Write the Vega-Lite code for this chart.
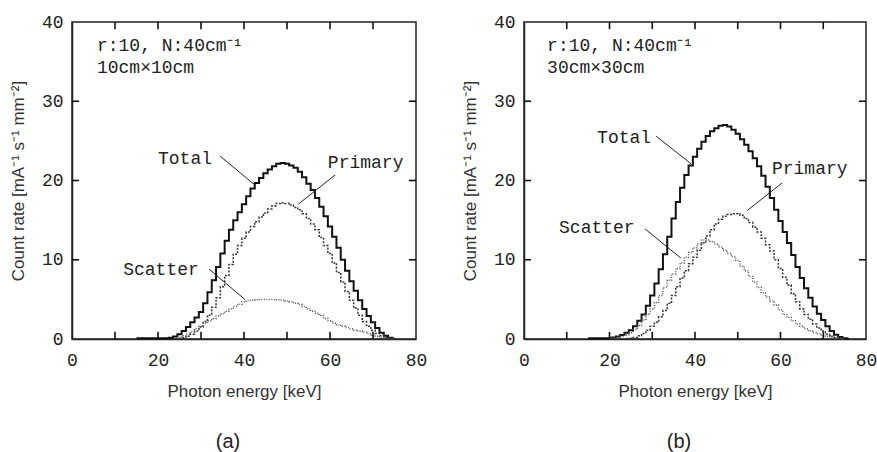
{
  "$schema": "https://vega.github.io/schema/vega-lite/v6.json",
  "background": "white",
  "padding": {"left": 8, "top": 12, "right": 5, "bottom": 5},
  "datasets": {
    "a": [
      {"e":15,"T":0.08},{"e":16,"T":0.08},{"e":17,"T":0.08},{"e":18,"T":0.08},{"e":19,"T":0.08},{"e":20,"T":0.08},{"e":21,"T":0.08},{"e":22,"T":0.1},{"e":23,"T":0.15},
      {"e":24,"T":0.3,"S":0.1},{"e":25,"T":0.6,"P":0.05,"S":0.2},{"e":26,"T":1.0,"P":0.15,"S":0.4},{"e":27,"T":1.5,"P":0.35,"S":0.6},{"e":28,"T":2.1,"P":0.6,"S":0.9},{"e":29,"T":2.7,"P":1.0,"S":1.3},
      {"e":30,"T":3.4,"P":1.5,"S":1.6},{"e":31,"T":4.5,"P":2.2,"S":2.0},{"e":32,"T":5.9,"P":3.0,"S":2.3},{"e":33,"T":7.4,"P":4.0,"S":2.6},{"e":34,"T":9.1,"P":5.2,"S":2.9},
      {"e":35,"T":10.8,"P":6.6,"S":3.2},{"e":36,"T":12.4,"P":8.0,"S":3.5},{"e":37,"T":13.8,"P":9.4,"S":3.8},{"e":38,"T":15.0,"P":10.7,"S":4.1},{"e":39,"T":16.0,"P":11.8,"S":4.4},
      {"e":40,"T":17.0,"P":12.7,"S":4.7},{"e":41,"T":18.0,"P":13.5,"S":4.85},{"e":42,"T":19.0,"P":14.2,"S":4.9},{"e":43,"T":19.7,"P":14.8,"S":4.95},{"e":44,"T":20.3,"P":15.4,"S":5.0},
      {"e":45,"T":20.9,"P":15.9,"S":5.0},{"e":46,"T":21.4,"P":16.4,"S":5.0},{"e":47,"T":21.8,"P":16.8,"S":5.0},{"e":48,"T":22.1,"P":17.1,"S":4.95},{"e":49,"T":22.2,"P":17.2,"S":4.9},
      {"e":50,"T":22.1,"P":17.1,"S":4.8},{"e":51,"T":21.9,"P":16.9,"S":4.7},{"e":52,"T":21.6,"P":16.6,"S":4.5},{"e":53,"T":21.1,"P":16.3,"S":4.35},{"e":54,"T":20.4,"P":15.8,"S":4.1},
      {"e":55,"T":19.6,"P":15.2,"S":3.8},{"e":56,"T":18.8,"P":14.5,"S":3.5},{"e":57,"T":17.8,"P":13.8,"S":3.25},{"e":58,"T":16.7,"P":12.8,"S":2.95},{"e":59,"T":15.5,"P":11.8,"S":2.6},
      {"e":60,"T":14.2,"P":10.8,"S":2.3},{"e":61,"T":12.9,"P":9.6,"S":2.0},{"e":62,"T":11.5,"P":8.4,"S":1.8},{"e":63,"T":10.0,"P":7.2,"S":1.6},{"e":64,"T":8.6,"P":6.0,"S":1.45},
      {"e":65,"T":7.3,"P":4.9,"S":1.3},{"e":66,"T":6.1,"P":3.9,"S":1.15},{"e":67,"T":4.9,"P":3.0,"S":1.0},{"e":68,"T":3.8,"P":2.2,"S":0.85},{"e":69,"T":2.9,"P":1.6,"S":0.7},
      {"e":70,"T":2.1,"P":1.1,"S":0.5},{"e":71,"T":1.4,"P":0.7,"S":0.35},{"e":72,"T":0.8,"P":0.4,"S":0.2},{"e":73,"T":0.4,"P":0.2,"S":0.1},{"e":74,"T":0.15,"P":0.07,"S":0.05},{"e":75,"T":0.05,"P":0.02,"S":0.02}
    ],
    "b": [
      {"e":15,"T":0.1},{"e":16,"T":0.1},{"e":17,"T":0.1},{"e":18,"T":0.1},{"e":19,"T":0.1},{"e":20,"T":0.1,"S":0.05},{"e":21,"T":0.2,"S":0.1},{"e":22,"T":0.3,"S":0.2},{"e":23,"T":0.5,"S":0.3},
      {"e":24,"T":0.8,"P":0.05,"S":0.5},{"e":25,"T":1.1,"P":0.1,"S":0.8},{"e":26,"T":1.6,"P":0.2,"S":1.2},{"e":27,"T":2.3,"P":0.4,"S":1.7},{"e":28,"T":3.1,"P":0.7,"S":2.4},{"e":29,"T":4.2,"P":1.1,"S":3.1},
      {"e":30,"T":5.5,"P":1.6,"S":3.8},{"e":31,"T":7.0,"P":2.1,"S":4.6},{"e":32,"T":8.8,"P":2.8,"S":5.5},{"e":33,"T":10.7,"P":3.6,"S":6.5},{"e":34,"T":12.9,"P":4.5,"S":7.4},
      {"e":35,"T":15.2,"P":5.5,"S":8.2},{"e":36,"T":17.3,"P":6.6,"S":8.9},{"e":37,"T":19.1,"P":7.7,"S":9.6},{"e":38,"T":20.7,"P":8.6,"S":10.3},{"e":39,"T":21.9,"P":9.5,"S":10.9},
      {"e":40,"T":23.0,"P":10.3,"S":11.5},{"e":41,"T":24.0,"P":11.2,"S":12.0},{"e":42,"T":24.9,"P":12.1,"S":12.5},{"e":43,"T":25.6,"P":13.0,"S":12.5},{"e":44,"T":26.2,"P":13.8,"S":12.3},
      {"e":45,"T":26.6,"P":14.5,"S":12.0},{"e":46,"T":26.9,"P":15.1,"S":11.6},{"e":47,"T":27.0,"P":15.5,"S":11.2},{"e":48,"T":26.8,"P":15.7,"S":10.8},{"e":49,"T":26.4,"P":15.8,"S":10.4},
      {"e":50,"T":25.9,"P":15.8,"S":9.9},{"e":51,"T":25.2,"P":15.6,"S":9.2},{"e":52,"T":24.5,"P":15.2,"S":8.6},{"e":53,"T":23.7,"P":14.7,"S":7.9},{"e":54,"T":22.8,"P":14.1,"S":7.2},
      {"e":55,"T":21.8,"P":13.5,"S":6.5},{"e":56,"T":20.6,"P":12.7,"S":5.8},{"e":57,"T":19.2,"P":11.9,"S":5.3},{"e":58,"T":17.8,"P":11.1,"S":4.8},{"e":59,"T":16.3,"P":10.0,"S":4.3},
      {"e":60,"T":14.9,"P":8.9,"S":3.7},{"e":61,"T":13.5,"P":7.8,"S":3.1},{"e":62,"T":12.1,"P":6.8,"S":2.7},{"e":63,"T":10.6,"P":5.7,"S":2.3},{"e":64,"T":9.1,"P":4.7,"S":1.9},
      {"e":65,"T":7.7,"P":3.8,"S":1.6},{"e":66,"T":6.4,"P":3.1,"S":1.3},{"e":67,"T":5.2,"P":2.5,"S":1.0},{"e":68,"T":4.1,"P":1.9,"S":0.8},{"e":69,"T":3.2,"P":1.4,"S":0.65},
      {"e":70,"T":2.4,"P":1.0,"S":0.5},{"e":71,"T":1.6,"P":0.6,"S":0.35},{"e":72,"T":1.0,"P":0.35,"S":0.25},{"e":73,"T":0.55,"P":0.2,"S":0.15},{"e":74,"T":0.25,"P":0.08,"S":0.08},{"e":75,"T":0.1,"P":0.03,"S":0.03},{"e":76,"T":0.03}
    ],
    "tk": [
      {"tx1":10,"ty1":0,"tx2":10,"ty2":0.9},{"tx1":20,"ty1":0,"tx2":20,"ty2":0.9},{"tx1":30,"ty1":0,"tx2":30,"ty2":0.9},{"tx1":40,"ty1":0,"tx2":40,"ty2":0.9},{"tx1":50,"ty1":0,"tx2":50,"ty2":0.9},{"tx1":60,"ty1":0,"tx2":60,"ty2":0.9},{"tx1":70,"ty1":0,"tx2":70,"ty2":0.9},
      {"tx1":10,"ty1":40,"tx2":10,"ty2":39.1},{"tx1":20,"ty1":40,"tx2":20,"ty2":39.1},{"tx1":30,"ty1":40,"tx2":30,"ty2":39.1},{"tx1":40,"ty1":40,"tx2":40,"ty2":39.1},{"tx1":50,"ty1":40,"tx2":50,"ty2":39.1},{"tx1":60,"ty1":40,"tx2":60,"ty2":39.1},{"tx1":70,"ty1":40,"tx2":70,"ty2":39.1},
      {"tx1":0,"ty1":10,"tx2":1.65,"ty2":10},{"tx1":0,"ty1":20,"tx2":1.65,"ty2":20},{"tx1":0,"ty1":30,"tx2":1.65,"ty2":30},
      {"tx1":80,"ty1":10,"tx2":78.35,"ty2":10},{"tx1":80,"ty1":20,"tx2":78.35,"ty2":20},{"tx1":80,"ty1":30,"tx2":78.35,"ty2":30}
    ],
    "la": [
      {"x1":34.4,"y1":23.1,"x2":42.6,"y2":19.4},
      {"x1":61.2,"y1":20.7,"x2":52.6,"y2":17.0},
      {"x1":31.9,"y1":8.8,"x2":40.2,"y2":5.0}
    ],
    "lb": [
      {"x1":30.9,"y1":25.6,"x2":39.1,"y2":22.1},
      {"x1":60.4,"y1":19.7,"x2":52.2,"y2":16.2},
      {"x1":28.3,"y1":13.9,"x2":36.7,"y2":10.2}
    ],
    "ta": [
      {"x":20.0,"y":22.1,"t":"Total"},
      {"x":59.5,"y":21.6,"t":"Primary"},
      {"x":11.9,"y":8.1,"t":"Scatter"},
      {"x":5.8,"y":36.3,"t":"r:10, N:40cm⁻¹"},
      {"x":5.8,"y":33.6,"t":"10cm×10cm"}
    ],
    "tb": [
      {"x":17.1,"y":24.7,"t":"Total"},
      {"x":58.0,"y":20.8,"t":"Primary"},
      {"x":8.2,"y":13.4,"t":"Scatter"},
      {"x":5.4,"y":36.3,"t":"r:10, N:40cm⁻¹"},
      {"x":5.4,"y":33.6,"t":"30cm×30cm"}
    ]
  },
  "bounds": "flush",
  "spacing": 108,
  "hconcat": [
    {
      "width": 344, "height": 317,
      "title": {"text": "(a)", "orient": "bottom", "anchor": "middle", "frame": "group", "dx": -16, "offset": 33},
      "layer": [
        {"data": {"name": "a"}, "mark": {"type": "line", "interpolate": "step", "color": "#111", "strokeWidth": 2},
         "encoding": {
           "x": {"field": "e", "type": "quantitative", "scale": {"domain": [0, 80], "nice": false},
                 "axis": {"orient": "bottom", "values": [0,20,40,60,80], "title": "Photon energy [keV]", "labelPadding": 12}},
           "y": {"field": "T", "type": "quantitative", "scale": {"domain": [0, 40], "nice": false},
                 "axis": {"orient": "left", "values": [0,10,20,30,40], "title": "Count rate [mA⁻¹ s⁻¹ mm⁻²]", "labelPadding": 9}}
         }},
        {"data": {"name": "a"}, "mark": {"type": "line", "interpolate": "step", "color": "#333", "strokeWidth": 1.5, "strokeDash": [2, 1.5]},
         "encoding": {"x": {"field": "e", "type": "quantitative"}, "y": {"field": "P", "type": "quantitative"}}},
        {"data": {"name": "a"}, "mark": {"type": "line", "interpolate": "step", "color": "#555", "strokeWidth": 1.5, "strokeDash": [1, 1.5]},
         "encoding": {"x": {"field": "e", "type": "quantitative"}, "y": {"field": "S", "type": "quantitative"}}},
        {"data": {"name": "tk"}, "mark": {"type": "rule", "color": "#111", "strokeWidth": 1.6},
         "encoding": {"x": {"field": "tx1", "type": "quantitative"}, "y": {"field": "ty1", "type": "quantitative"}, "x2": {"field": "tx2"}, "y2": {"field": "ty2"}}},
        {"data": {"name": "la"}, "mark": {"type": "rule", "color": "#222", "strokeWidth": 1},
         "encoding": {"x": {"field": "x1", "type": "quantitative"}, "y": {"field": "y1", "type": "quantitative"}, "x2": {"field": "x2"}, "y2": {"field": "y2"}}},
        {"data": {"name": "ta"}, "mark": {"type": "text", "align": "left", "baseline": "alphabetic", "font": "Liberation Mono", "fontSize": 18, "color": "#222"},
         "encoding": {"x": {"field": "x", "type": "quantitative"}, "y": {"field": "y", "type": "quantitative"}, "text": {"field": "t"}}}
      ]
    },
    {
      "width": 342, "height": 317,
      "title": {"text": "(b)", "orient": "bottom", "anchor": "middle", "frame": "group", "dx": -16, "offset": 33},
      "layer": [
        {"data": {"name": "b"}, "mark": {"type": "line", "interpolate": "step", "color": "#111", "strokeWidth": 2},
         "encoding": {
           "x": {"field": "e", "type": "quantitative", "scale": {"domain": [0, 80], "nice": false},
                 "axis": {"orient": "bottom", "values": [0,20,40,60,80], "title": "Photon energy [keV]", "labelPadding": 12}},
           "y": {"field": "T", "type": "quantitative", "scale": {"domain": [0, 40], "nice": false},
                 "axis": {"orient": "left", "values": [0,10,20,30,40], "title": "Count rate [mA⁻¹ s⁻¹ mm⁻²]", "labelPadding": 9}}
         }},
        {"data": {"name": "b"}, "mark": {"type": "line", "interpolate": "step", "color": "#333", "strokeWidth": 1.5, "strokeDash": [2, 1.5]},
         "encoding": {"x": {"field": "e", "type": "quantitative"}, "y": {"field": "P", "type": "quantitative"}}},
        {"data": {"name": "b"}, "mark": {"type": "line", "interpolate": "step", "color": "#555", "strokeWidth": 1.5, "strokeDash": [1, 1.5]},
         "encoding": {"x": {"field": "e", "type": "quantitative"}, "y": {"field": "S", "type": "quantitative"}}},
        {"data": {"name": "tk"}, "mark": {"type": "rule", "color": "#111", "strokeWidth": 1.6},
         "encoding": {"x": {"field": "tx1", "type": "quantitative"}, "y": {"field": "ty1", "type": "quantitative"}, "x2": {"field": "tx2"}, "y2": {"field": "ty2"}}},
        {"data": {"name": "lb"}, "mark": {"type": "rule", "color": "#222", "strokeWidth": 1},
         "encoding": {"x": {"field": "x1", "type": "quantitative"}, "y": {"field": "y1", "type": "quantitative"}, "x2": {"field": "x2"}, "y2": {"field": "y2"}}},
        {"data": {"name": "tb"}, "mark": {"type": "text", "align": "left", "baseline": "alphabetic", "font": "Liberation Mono", "fontSize": 18, "color": "#222"},
         "encoding": {"x": {"field": "x", "type": "quantitative"}, "y": {"field": "y", "type": "quantitative"}, "text": {"field": "t"}}}
      ]
    }
  ],
  "config": {
    "view": {"stroke": "#222", "strokeWidth": 1.5},
    "axis": {
      "grid": false, "domainColor": "#222", "domainWidth": 1.5, "ticks": false,
      "labelFont": "Liberation Mono", "labelFontSize": 18, "labelColor": "#222",
      "labelFlush": false, "labelOverlap": false,
      "titleFont": "Liberation Sans", "titleFontSize": 17, "titleFontWeight": "normal", "titleColor": "#333", "titlePadding": 14
    },
    "title": {"font": "Liberation Sans", "fontSize": 20, "fontWeight": "normal", "color": "#222"}
  }
}
